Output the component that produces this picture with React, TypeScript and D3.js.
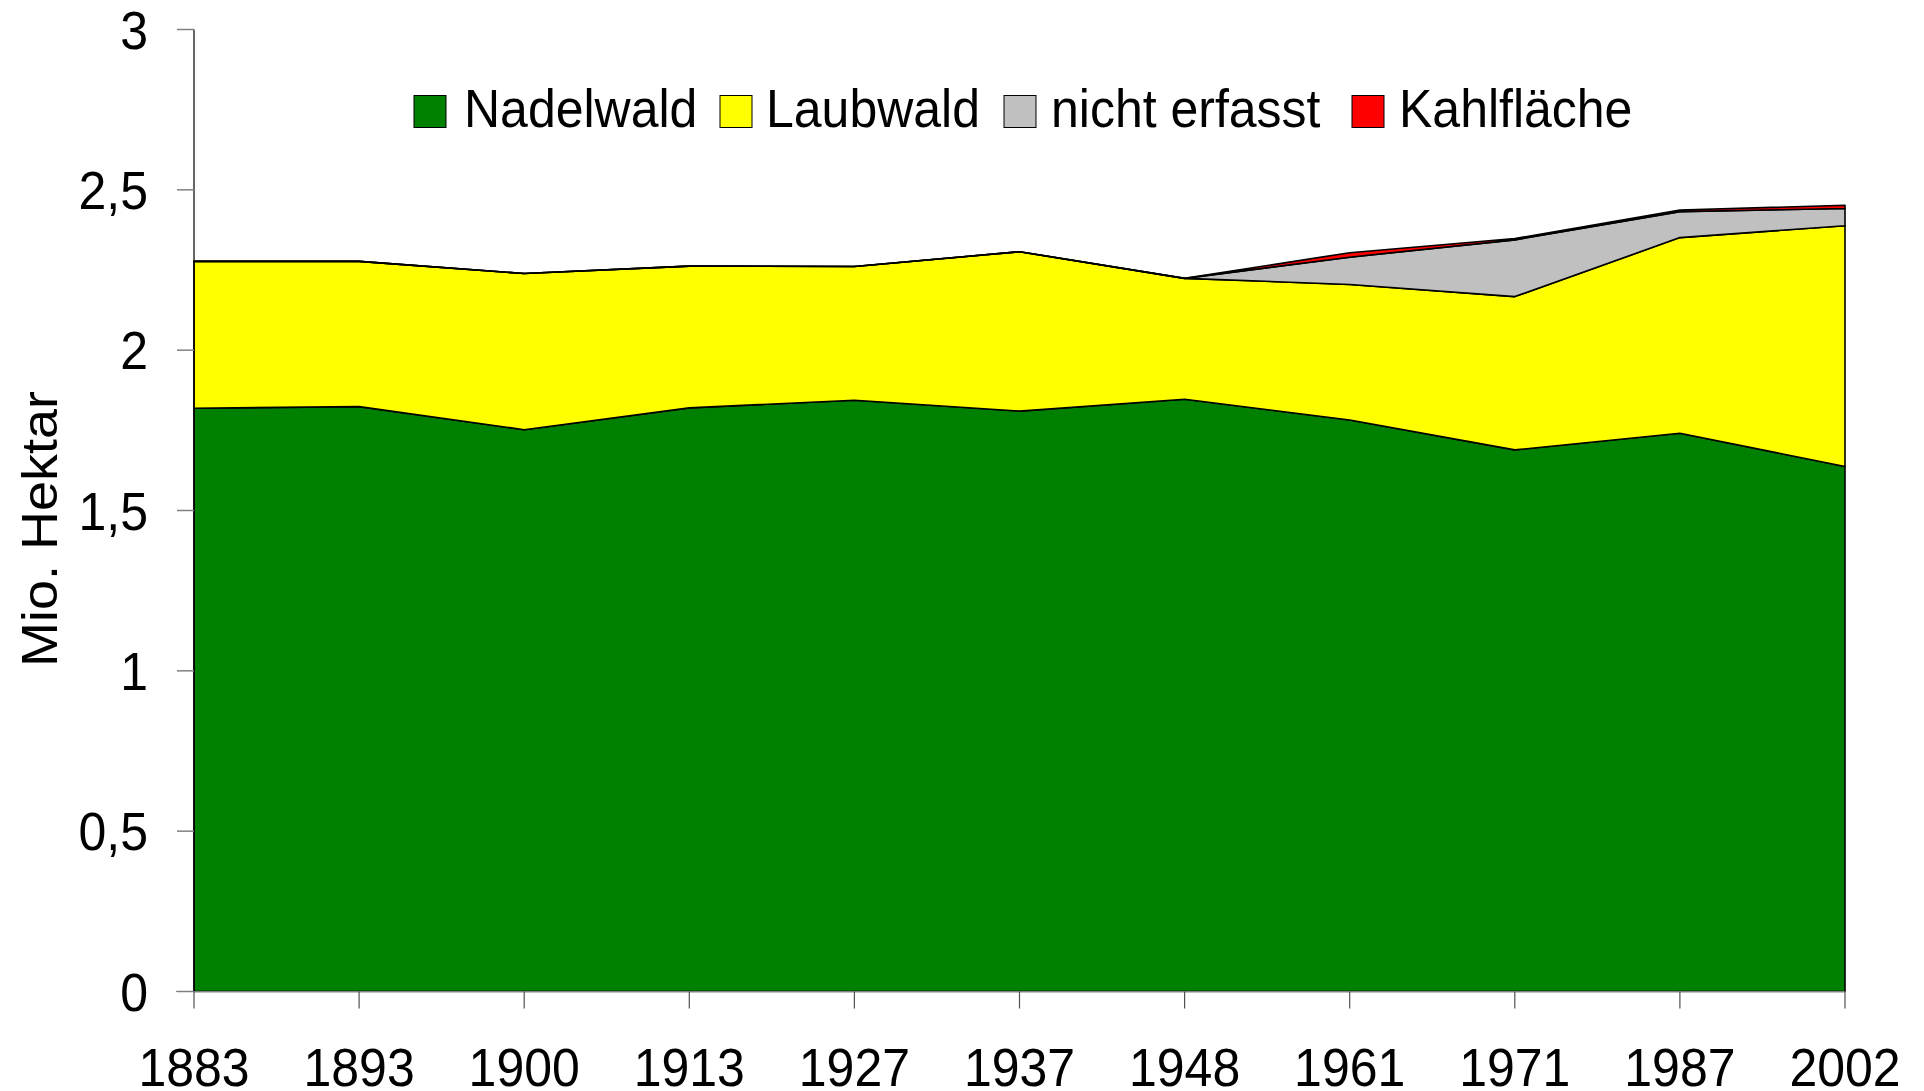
import React from "react";
import * as d3 from "d3";

const years = ["1883", "1893", "1900", "1913", "1927", "1937", "1948", "1961", "1971", "1987", "2002"];
const nadelwald = [1.819, 1.824, 1.752, 1.820, 1.844, 1.810, 1.847, 1.782, 1.689, 1.741, 1.637];
const laubwald = [0.458, 0.453, 0.487, 0.442, 0.417, 0.497, 0.377, 0.423, 0.478, 0.610, 0.751];
const nichtErfasst = [0, 0, 0, 0, 0, 0, 0, 0.085, 0.177, 0.081, 0.054];
const kahlflaeche = [0, 0, 0, 0, 0, 0, 0, 0.014, 0.004, 0.005, 0.010];
const yTicks = [0, 0.5, 1, 1.5, 2, 2.5, 3];
const seriesNames = ["Nadelwald", "Laubwald", "nicht erfasst", "Kahlfläche"];
const seriesColors = ["#008000", "#FFFF00", "#C0C0C0", "#FF0000"];

const W = 1924;
const H = 1091;
const FONT = "'Liberation Sans', Arial, sans-serif";
const FS = 50;
const SY = 1.08;

function T({ x, y, anchor = "start", children }: { x: number; y: number; anchor?: string; children: any }) {
  return (
    <text
      transform={`translate(${x},${y}) scale(1,${SY})`}
      textAnchor={anchor as any}
      fontFamily={FONT}
      fontSize={FS}
      fill="#000"
    >
      {children}
    </text>
  );
}

export default function App() {
  const rows = years.map((y, i) => ({
    year: y,
    "Nadelwald": nadelwald[i],
    "Laubwald": laubwald[i],
    "nicht erfasst": nichtErfasst[i],
    "Kahlfläche": kahlflaeche[i],
  }));
  const stack = d3.stack<any>().keys(seriesNames).order(d3.stackOrderNone).offset(d3.stackOffsetNone);
  const layers = stack(rows);

  const x = d3.scalePoint<string>().domain(years).range([194, 1845]);
  const y = d3.scaleLinear().domain([0, 3]).range([991.5, 29.5]);

  const area = d3
    .area<any>()
    .x((d) => x(d.data.year) as number)
    .y0((d) => y(d[0]))
    .y1((d) => y(d[1]))
    .curve(d3.curveLinear);

  const legendX = [414, 720, 1004, 1352];
  const legendTextX = [464, 766, 1051, 1399];

  return (
    <div style={{ position: "absolute", left: 0, top: 0, width: W, height: H, background: "#fff" }}>
      <svg width={W} height={H} style={{ display: "block" }}>
        <rect x={0} y={0} width={W} height={H} fill="#fff" />
        {layers.map((layer, i) => (
          <path
            key={seriesNames[i]}
            d={area(layer) as string}
            fill={seriesColors[i]}
            stroke="#000"
            strokeWidth={1.6}
            strokeLinejoin="round"
          />
        ))}
        {/* y axis */}
        <line x1={194} x2={194} y1={y(3)} y2={y(0)} stroke="#000" strokeWidth={1.2} />
        {yTicks.map((t) => (
          <g key={t}>
            <line x1={177} x2={194} y1={y(t)} y2={y(t)} stroke="#808080" strokeWidth={1.5} />
            <T x={148} y={y(t) + 19} anchor="end">
              {String(t).replace(".", ",")}
            </T>
          </g>
        ))}
        {/* x axis */}
        <line x1={176} x2={1845} y1={y(0)} y2={y(0)} stroke="#808080" strokeWidth={1.2} />
        {years.map((yr) => (
          <g key={yr}>
            <line
              x1={x(yr) as number}
              x2={x(yr) as number}
              y1={y(0)}
              y2={y(0) + 17}
              stroke="#505050"
              strokeWidth={1.2}
            />
            <T x={x(yr) as number} y={1086} anchor="middle">
              {yr}
            </T>
          </g>
        ))}
        {/* y title */}
        <text
          transform={`translate(57,529) scale(1,${SY}) rotate(-90)`}
          textAnchor="middle"
          fontFamily={FONT}
          fontSize={FS}
          fill="#000"
        >
          Mio. Hektar
        </text>
        {/* legend */}
        {seriesNames.map((name, i) => (
          <g key={name}>
            <rect
              x={legendX[i]}
              y={95.5}
              width={32}
              height={32}
              fill={seriesColors[i]}
              stroke="#000"
              strokeWidth={1}
            />
            <T x={legendTextX[i]} y={127}>
              {name}
            </T>
          </g>
        ))}
      </svg>
    </div>
  );
}
